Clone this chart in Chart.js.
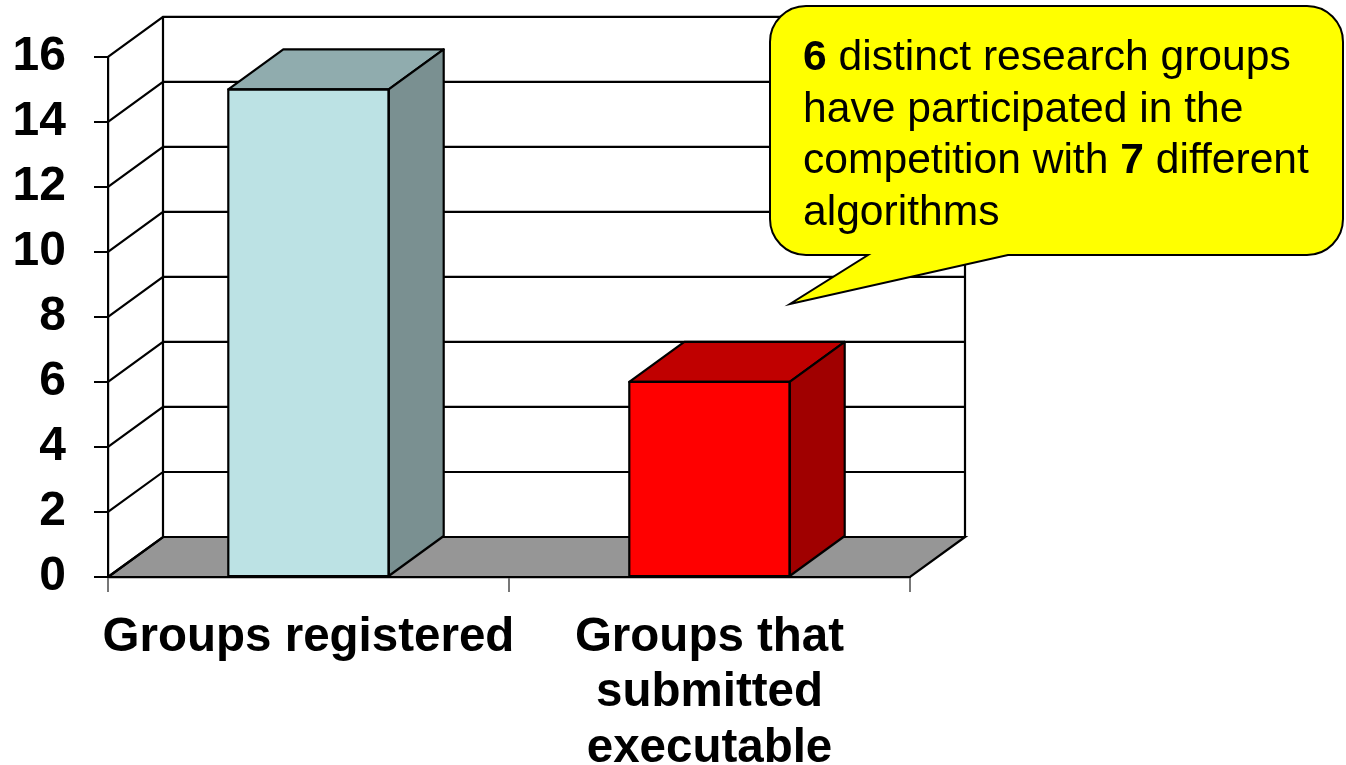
<!DOCTYPE html>
<html>
<head>
<meta charset="utf-8">
<script src="https://cdn.jsdelivr.net/npm/chart.js@4"></script>
<style>
html, body { margin: 0; padding: 0; background: #fff; }
</style>
</head>
<body>
<canvas id="chart" width="1346" height="765"></canvas>
<script>
'use strict';
const categories = ['Groups registered', ['Groups that', 'submitted', 'executable']];
const groupCounts = [15, 6];
const frontColors = ['#BCE2E4', '#FF0000'];
const topColors = ['#90ACAE', '#C00000'];
const sideColors = ['#7A9091', '#A00000'];
const yMin = 0;
const yMax = 16;
const yStep = 2;
const calloutLines = [
    [['6', true], [' distinct research groups', false]],
    [['have participated in the', false]],
    [['competition with ', false], ['7', true], [' different', false]],
    [['algorithms', false]],
];

const FONT = '"Liberation Sans", Arial, sans-serif';
const DX = 55, DY = -40; // 3d depth

const box3d = {
    id: 'box3d',
    beforeDraw(chart) {
        const c = chart.ctx, a = chart.chartArea, ys = chart.scales.y;
        const y0 = ys.getPixelForValue(yMin), yTop = ys.getPixelForValue(yMax);
        c.save();
        // floor
        c.beginPath();
        c.moveTo(a.left, y0);
        c.lineTo(a.right, y0);
        c.lineTo(a.right + DX, y0 + DY);
        c.lineTo(a.left + DX, y0 + DY);
        c.closePath();
        c.fillStyle = '#969696';
        c.fill();
        c.strokeStyle = '#000';
        c.lineWidth = 2.2;
        c.stroke();
        // side wall diagonals + back gridlines
        c.beginPath();
        for (let v = yMin; v <= yMax; v += yStep) {
            const y = ys.getPixelForValue(v);
            c.moveTo(a.left, y);
            c.lineTo(a.left + DX, y + DY);
            c.lineTo(a.right + DX, y + DY);
        }
        c.moveTo(a.left + DX, y0 + DY);
        c.lineTo(a.left + DX, yTop + DY);
        c.moveTo(a.right + DX, y0 + DY);
        c.lineTo(a.right + DX, yTop + DY);
        c.stroke();
        c.restore();
    },
    afterDatasetsDraw(chart) {
        const c = chart.ctx;
        const bars = chart.getDatasetMeta(0).data;
        c.save();
        c.lineWidth = 2.2;
        c.strokeStyle = '#000';
        c.lineJoin = 'round';
        bars.forEach((b, i) => {
            const l = b.x - b.width / 2, r = b.x + b.width / 2, t = b.y, bot = b.base;
            c.beginPath();
            c.moveTo(l, t);
            c.lineTo(l + DX, t + DY);
            c.lineTo(r + DX, t + DY);
            c.lineTo(r, t);
            c.closePath();
            c.fillStyle = topColors[i];
            c.fill();
            c.stroke();
            c.beginPath();
            c.moveTo(r, t);
            c.lineTo(r + DX, t + DY);
            c.lineTo(r + DX, bot + DY);
            c.lineTo(r, bot);
            c.closePath();
            c.fillStyle = sideColors[i];
            c.fill();
            c.stroke();
            c.beginPath();
            c.rect(l, t, r - l, bot - t);
            c.stroke();
        });
        c.restore();
    },
    afterDraw(chart) {
        const c = chart.ctx;
        const x1 = 770, y1 = 6, x2 = 1343, y2 = 255, rad = 36;
        const tailA = 1008, tailB = 868, tipX = 790, tipY = 304;
        c.save();
        c.beginPath();
        c.moveTo(x1 + rad, y1);
        c.lineTo(x2 - rad, y1);
        c.arcTo(x2, y1, x2, y1 + rad, rad);
        c.lineTo(x2, y2 - rad);
        c.arcTo(x2, y2, x2 - rad, y2, rad);
        c.lineTo(tailA, y2);
        c.lineTo(tipX, tipY);
        c.lineTo(tailB, y2);
        c.lineTo(x1 + rad, y2);
        c.arcTo(x1, y2, x1, y2 - rad, rad);
        c.lineTo(x1, y1 + rad);
        c.arcTo(x1, y1, x1 + rad, y1, rad);
        c.closePath();
        c.fillStyle = '#FFFF00';
        c.fill();
        c.lineWidth = 2;
        c.strokeStyle = '#000';
        c.stroke();
        c.fillStyle = '#000';
        c.textBaseline = 'alphabetic';
        calloutLines.forEach((line, li) => {
            let x = 803;
            const y = 70 + li * 51.5;
            line.forEach(([txt, bold]) => {
                c.font = (bold ? 'bold ' : '') + '42.6px ' + FONT;
                c.fillText(txt, x, y);
                x += c.measureText(txt).width;
            });
        });
        c.restore();
    },
};

new Chart(document.getElementById('chart'), {
    type: 'bar',
    data: {
        labels: categories,
        datasets: [{
            data: groupCounts,
            backgroundColor: frontColors,
            borderColor: '#000',
            borderWidth: 0,
            categoryPercentage: 1,
            barPercentage: 0.4,
        }],
    },
    options: {
        responsive: false,
        animation: false,
        devicePixelRatio: 1,
        layout: { padding: { top: 56, right: 436, left: 0, bottom: 0 } },
        plugins: { legend: { display: false }, tooltip: { enabled: false } },
        scales: {
            x: {
                grid: { drawOnChartArea: false, drawTicks: true, tickLength: 15, color: '#777', lineWidth: 2, offset: true },
                border: { display: true, color: '#000', width: 2.2 },
                ticks: {
                    color: '#000', padding: 18, maxRotation: 0, minRotation: 0, autoSkip: false,
                    font: { family: FONT, size: 47.5, weight: 'bold', lineHeight: 1.17 },
                },
                afterFit: (s) => { s.height = 188; },
            },
            y: {
                min: yMin,
                max: yMax,
                ticks: {
                    stepSize: yStep, color: '#000', padding: 28,
                    font: { family: FONT, size: 48, weight: 'bold' },
                },
                grid: { drawOnChartArea: false, drawTicks: true, tickLength: 14, color: '#000', lineWidth: 2 },
                border: { display: true, color: '#000', width: 2.2 },
                afterFit: (s) => { s.width = 108; },
            },
        },
    },
    plugins: [box3d],
});
</script>
</body>
</html>
